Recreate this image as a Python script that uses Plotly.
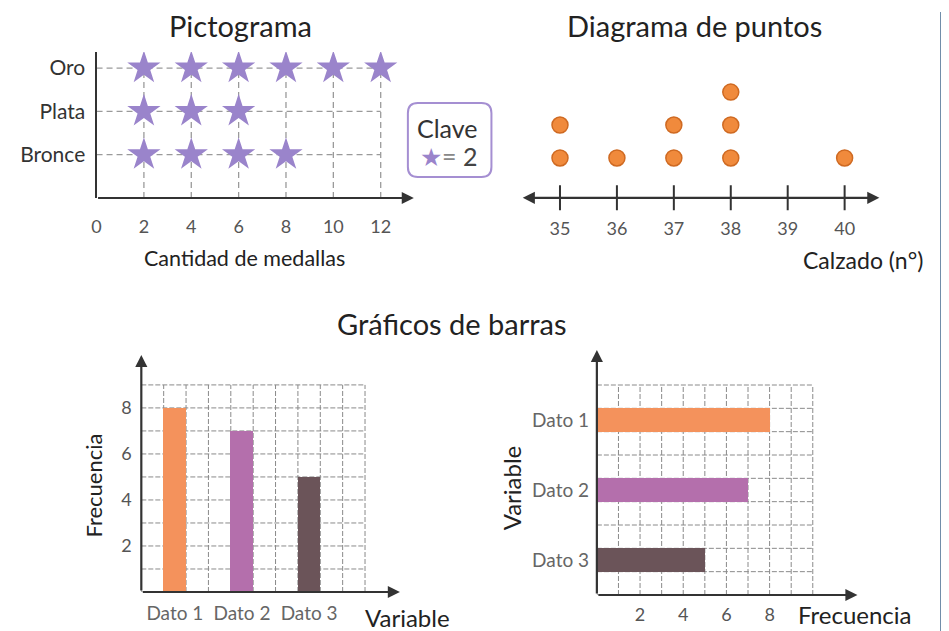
import plotly.graph_objects as go

# pictograma
medal_types = ["Oro", "Plata", "Bronce"]
medal_counts = [12, 6, 8]
medal_ticks = [0, 2, 4, 6, 8, 10, 12]
key_value = 2

# diagrama de puntos
shoe_sizes = [35, 36, 37, 38, 39, 40]
shoe_counts = [2, 1, 2, 3, 0, 1]

# graficos de barras
bar_labels = ["Dato 1", "Dato 2", "Dato 3"]
bar_values = [8, 7, 5]
bar_colors = ["#f4925c", "#b46fac", "#6b5459"]
freq_ticks = [2, 4, 6, 8]

# the page body adds an offset, so the figure is drawn smaller and shifted back
OFFX, OFFY = 11, 8
W, H = 949 - OFFX, 631 - OFFY
FONT = "Lato, 'Open Sans', sans-serif"
INK = "#222"
GREY = "#555"


def fx(p):
    return (p - OFFX) / W


def fy(p):
    return 1 - (p - OFFY) / H


def px_x(a, b):
    return [fx(a), fx(b)]


def px_y(top, bottom):
    return [fy(bottom), fy(top)]


fig = go.Figure()

# --- pictograma stars
row_y = {name: len(medal_types) - i for i, name in enumerate(medal_types)}
sx, sy = [], []
for name, cnt in zip(medal_types, medal_counts):
    for k in range(1, cnt // key_value + 1):
        sx.append(k * key_value)
        sy.append(row_y[name])
fig.add_trace(go.Scatter(x=sx, y=sy, mode="markers", xaxis="x", yaxis="y",
                         marker=dict(symbol="star", size=25, color="#9a84cb"),
                         showlegend=False, hoverinfo="skip"))

# --- dot plot
dx, dy = [], []
for s, c in zip(shoe_sizes, shoe_counts):
    for k in range(1, c + 1):
        dx.append(s)
        dy.append(k)
fig.add_trace(go.Scatter(x=dx, y=dy, mode="markers", xaxis="x2", yaxis="y2",
                         marker=dict(size=16, color="#f08a3c",
                                     line=dict(color="#cf6a22", width=1.5)),
                         showlegend=False, hoverinfo="skip"))

# --- vertical bars
bar_pos = [1.5 + 3 * i for i in range(len(bar_labels))]
fig.add_trace(go.Bar(x=bar_pos, y=bar_values, width=1, xaxis="x3", yaxis="y3",
                     marker=dict(color=bar_colors, line=dict(width=0)),
                     showlegend=False, hoverinfo="skip"))

# --- horizontal bars
hbar_pos = [7.5 - 3 * i for i in range(len(bar_labels))]
fig.add_trace(go.Bar(x=bar_values, y=hbar_pos, width=1, orientation="h",
                     xaxis="x4", yaxis="y4",
                     marker=dict(color=bar_colors, line=dict(width=0)),
                     showlegend=False, hoverinfo="skip"))

shapes = []
annotations = []
dash = dict(color="#9a9a9a", width=1.3, dash="6px,4px")

# pictograma grid
for name in medal_types:
    shapes.append(dict(type="line", xref="x", yref="y", x0=0, x1=max(medal_ticks),
                       y0=row_y[name], y1=row_y[name], line=dash, layer="below"))
for t in medal_ticks[1:]:
    shapes.append(dict(type="line", xref="x", yref="y", x0=t, x1=t,
                       y0=0, y1=len(medal_types), line=dash, layer="below"))

# bar chart grids
grid = dict(color="#8a8a8a", width=1, dash="5px,2px")
for xr, yr in [("x3", "y3"), ("x4", "y4")]:
    for i in range(11):
        shapes.append(dict(type="line", xref=xr, yref=yr, x0=i, x1=i, y0=0, y1=9,
                           line=grid, layer="below"))
    for j in range(10):
        shapes.append(dict(type="line", xref=xr, yref=yr, x0=0, x1=10, y0=j, y1=j,
                           line=grid, layer="below"))

# dot plot tick marks
AXIS2_Y = -0.21
for s in shoe_sizes:
    shapes.append(dict(type="line", xref="x2", yref="y2", x0=s, x1=s,
                       y0=AXIS2_Y - 0.38, y1=AXIS2_Y + 0.38,
                       line=dict(color="#333", width=2)))

# clave box (rounded)
bx0, bx1, by0, by1, r = fx(408), fx(492), fy(177), fy(103), 10
rx, ry = r / W, r / H
path = (f"M {bx0+rx},{by1} L {bx1-rx},{by1} Q {bx1},{by1} {bx1},{by1-ry} "
        f"L {bx1},{by0+ry} Q {bx1},{by0} {bx1-rx},{by0} L {bx0+rx},{by0} "
        f"Q {bx0},{by0} {bx0},{by0+ry} L {bx0},{by1-ry} Q {bx0},{by1} {bx0+rx},{by1} Z")
shapes.append(dict(type="path", xref="paper", yref="paper", path=path,
                   line=dict(color="#a58fd2", width=2)))

# right border
shapes.append(dict(type="line", xref="paper", yref="paper", x0=fx(944.5), x1=fx(944.5),
                   y0=0, y1=fy(12), line=dict(color="#6e8ca8", width=3)))

arrow = dict(showarrow=True, arrowhead=2, arrowsize=1.1, arrowwidth=2.2,
             arrowcolor="#333", text="")

# axes as arrows
annotations += [
    dict(xref="x", yref="y", axref="x", ayref="y", x=13.4, y=0, ax=0, ay=0, **arrow),
    dict(xref="x2", yref="y2", axref="x2", ayref="y2", x=40.61, y=AXIS2_Y,
         ax=34.32, ay=AXIS2_Y, arrowside="end+start", **arrow),
    dict(xref="x3", yref="y3", axref="x3", ayref="y3", x=11.56, y=0, ax=0, ay=0, **arrow),
    dict(xref="x3", yref="y3", axref="x3", ayref="y3", x=0, y=10.3, ax=0, ay=0, **arrow),
    dict(xref="x4", yref="y4", axref="x4", ayref="y4", x=12.07, y=0, ax=0, ay=0, **arrow),
    dict(xref="x4", yref="y4", axref="x4", ayref="y4", x=0, y=10.5, ax=0, ay=0, **arrow),
]


def label(text, x, y, size=17, color=INK, angle=0):
    return dict(text=text, x=fx(x), y=fy(y), xref="paper", yref="paper",
                xanchor="center", yanchor="middle",
                showarrow=False, textangle=angle,
                font=dict(family=FONT, size=size, color=color))


annotations += [
    label("Pictograma", 240, 25, 29),
    label("Diagrama de puntos", 696, 25, 29),
    label("Gráficos de barras", 452, 323, 29),
    label("Cantidad de medallas", 244, 258, 21.5),
    label("Calzado (n°)", 866, 260, 23),
    label("Clave", 448, 128, 25, "#333"),
    label("<span style='color:#9a84cb'>★</span><span style='color:#888'>=</span> "
          + str(key_value), 449, 156, 25, "#444"),
    label("Variable", 408, 617, 24),
    label("Frecuencia", 91, 486, 22, angle=-90),
    label("Frecuencia", 858, 614, 24),
    label("Variable", 512, 488, 24, angle=-90),
]

tickfont = dict(family=FONT, size=18, color=GREY)
hidden = dict(ticklen=0, showgrid=False, zeroline=False, showline=False)

fig.update_layout(
    width=W, height=H, margin=dict(l=0, r=0, t=0, b=0),
    paper_bgcolor="white", plot_bgcolor="rgba(0,0,0,0)",
    font=dict(family=FONT),
    shapes=shapes, annotations=annotations, bargap=0,
    xaxis=dict(domain=px_x(95, 414), range=[0, 13.4], anchor="y",
               tickvals=medal_ticks, ticks="outside", ticklen=12,
               tickcolor="rgba(0,0,0,0)", tickfont=tickfont,
               showgrid=False, zeroline=False),
    yaxis=dict(domain=px_y(52, 198), range=[0, 3.37], anchor="x",
               tickvals=[row_y[n] for n in medal_types], ticktext=medal_types,
               ticks="outside", ticklen=5, tickcolor="rgba(0,0,0,0)",
               tickfont=dict(family=FONT, size=21, color="#333"),
               showline=True, linecolor="#333", linewidth=2.2,
               showgrid=False, zeroline=False),
    xaxis2=dict(domain=px_x(522, 882), range=[34.32, 40.61], anchor="y2",
                tickvals=shoe_sizes, ticks="outside", ticklen=0,
                tickcolor="rgba(0,0,0,0)", tickfont=tickfont,
                showgrid=False, zeroline=False),
    yaxis2=dict(domain=px_y(74, 212), range=[-0.64, 3.55], anchor="x2",
                showticklabels=False, **hidden),
    xaxis3=dict(domain=px_x(140, 400), range=[0, 11.56], anchor="y3",
                tickvals=bar_pos, ticktext=bar_labels, ticks="outside", ticklen=4,
                tickcolor="rgba(0,0,0,0)",
                tickfont=dict(family=FONT, size=19, color="#666"),
                showgrid=False, zeroline=False),
    yaxis3=dict(domain=px_y(355, 592), range=[0, 10.3], anchor="x3",
                tickvals=freq_ticks, ticks="outside", ticklen=5,
                tickcolor="rgba(0,0,0,0)", tickfont=tickfont,
                showgrid=False, zeroline=False),
    xaxis4=dict(domain=px_x(598, 860), range=[0, 12.07], anchor="y4",
                tickvals=freq_ticks, ticks="outside", ticklen=3,
                tickcolor="rgba(0,0,0,0)", tickfont=tickfont,
                showgrid=False, zeroline=False),
    yaxis4=dict(domain=px_y(350, 595), range=[0, 10.5], anchor="x4",
                tickvals=hbar_pos, ticktext=bar_labels, ticks="outside", ticklen=3,
                tickcolor="rgba(0,0,0,0)",
                tickfont=dict(family=FONT, size=19, color="#666"),
                showgrid=False, zeroline=False),
)

fig.write_html("out.html")
